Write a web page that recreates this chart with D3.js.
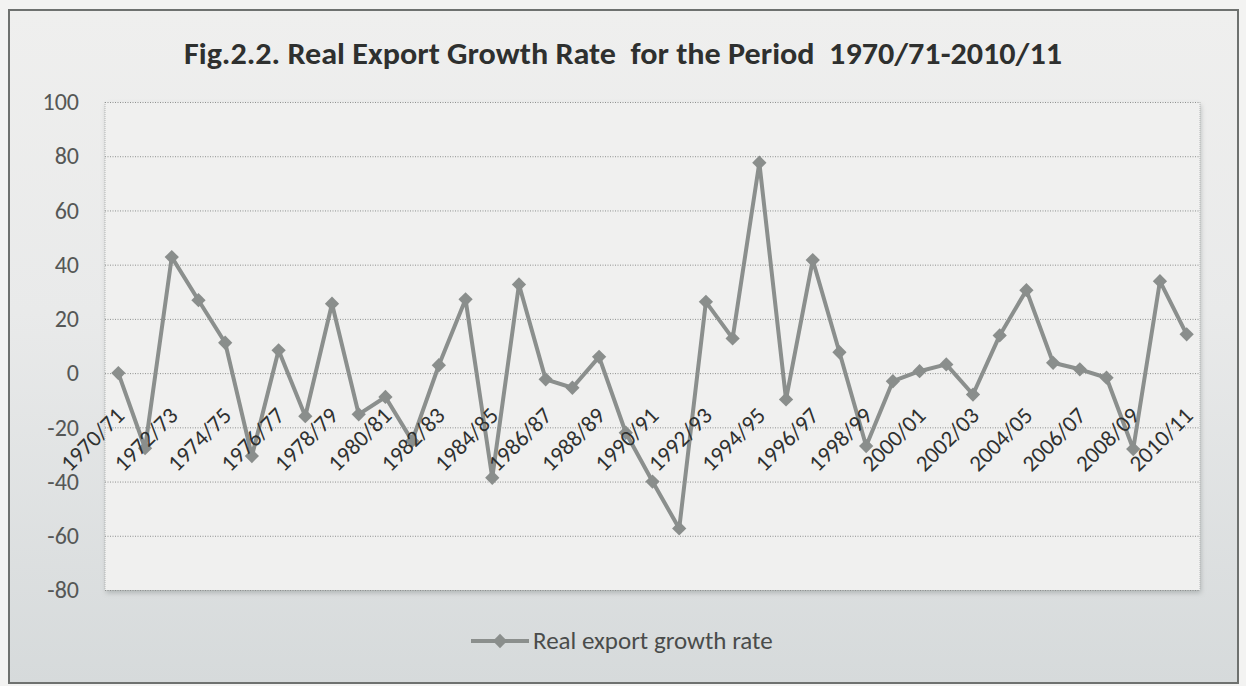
<!DOCTYPE html>
<html>
<head>
<meta charset="utf-8">
<script src="https://cdn.jsdelivr.net/npm/d3@7"></script>
<style>
  html, body { margin: 0; padding: 0; background: #f3f3f2; }
  svg { display: block; }
</style>
</head>
<body>
<svg id="chart" width="1246" height="686"></svg>
<script>
// Fiscal years of the series
const categories = [
  "1970/71","1971/72","1972/73","1973/74","1974/75","1975/76","1976/77","1977/78",
  "1978/79","1979/80","1980/81","1981/82","1982/83","1983/84","1984/85","1985/86",
  "1986/87","1987/88","1988/89","1989/90","1990/91","1991/92","1992/93","1993/94",
  "1994/95","1995/96","1996/97","1997/98","1998/99","1999/00","2000/01","2001/02",
  "2002/03","2003/04","2004/05","2005/06","2006/07","2007/08","2008/09","2009/10",
  "2010/11"
];

// Real export growth rate (%)
const growthRate = [
  0, -27.7, 42.8, 26.9, 11.2, -30.6, 8.4, -15.9,
  25.6, -15.2, -8.8, -25.0, 2.9, 27.2, -38.6, 32.7,
  -2.3, -5.4, 6.0, -22.0, -40.0, -57.3, 26.3, 12.8,
  77.6, -9.7, 41.7, 7.7, -26.9, -3.0, 0.7, 3.2,
  -7.9, 13.9, 30.6, 3.8, 1.4, -1.7, -28.0, 33.9,
  14.3
];

// Category labels shown on the axis (every second year)
const xTickLabels = categories.filter((d, i) => i % 2 === 0);

// Value axis ticks
const yTicks = [-80, -60, -40, -20, 0, 20, 40, 60, 80, 100];

const seriesName = "Real export growth rate";
const titleText = "Fig.2.2. Real Export Growth Rate\u00a0 for the Period\u00a0 1970/71-2010/11";

const svg = d3.select("#chart");
const fontFamily = "Carlito, Lato, 'Open Sans', sans-serif";

const plot = { left: 105, right: 1200, top: 102, bottom: 590 };

const x = d3.scalePoint().domain(categories).range([plot.left, plot.right]).padding(0.5);
const y = d3.scaleLinear().domain([-80, 100]).range([plot.bottom, plot.top]);

const defs = svg.append("defs");
const bg = defs.append("linearGradient").attr("id", "chartBg")
  .attr("x1", 0).attr("y1", 0).attr("x2", 0).attr("y2", 1);
bg.append("stop").attr("offset", "0%").attr("stop-color", "#efefee");
bg.append("stop").attr("offset", "45%").attr("stop-color", "#e9eaea");
bg.append("stop").attr("offset", "100%").attr("stop-color", "#d6dadb");

const shadow = defs.append("filter").attr("id", "plotShadow")
  .attr("x", "-5%").attr("y", "-5%").attr("width", "110%").attr("height", "115%");
shadow.append("feDropShadow").attr("dx", 1).attr("dy", 3).attr("stdDeviation", 2.5)
  .attr("flood-color", "#7d8282").attr("flood-opacity", 0.45);

// Chart area with frame
svg.append("rect")
  .attr("x", 9).attr("y", 10).attr("width", 1229).attr("height", 673)
  .attr("fill", "url(#chartBg)")
  .attr("stroke", "#6e716f").attr("stroke-width", 2);

// Plot area
svg.append("rect")
  .attr("x", plot.left).attr("y", plot.top)
  .attr("width", plot.right - plot.left).attr("height", plot.bottom - plot.top)
  .attr("fill", "#f0f0ef")
  .attr("filter", "url(#plotShadow)");

// Plot area side edges (dotted)
svg.append("g").selectAll("line").data([plot.left, plot.right]).join("line")
  .attr("x1", d => d).attr("x2", d => d)
  .attr("y1", plot.top).attr("y2", plot.bottom)
  .attr("stroke", "#b5b7b6").attr("stroke-width", 1)
  .attr("stroke-dasharray", "1,1");

// Horizontal gridlines
const grid = svg.append("g")
  .attr("transform", `translate(${plot.left},0)`)
  .call(d3.axisLeft(y).tickValues(yTicks).tickSize(-(plot.right - plot.left)).tickFormat(""));
grid.select(".domain").remove();
grid.selectAll("line")
  .attr("stroke", "#8e908f").attr("stroke-width", 1)
  .attr("stroke-dasharray", "1,1.5");

// Value axis labels (plain hyphen for negatives)
const yAxis = svg.append("g")
  .attr("transform", `translate(${plot.left},0)`)
  .call(d3.axisLeft(y).tickValues(yTicks).tickSize(0).tickPadding(26).tickFormat(d => String(d)));
yAxis.select(".domain").remove();
yAxis.selectAll("text")
  .attr("font-family", fontFamily)
  .attr("font-size", 24)
  .attr("fill", "#555756");

// Series line
const line = d3.line()
  .x((d, i) => x(categories[i]))
  .y(d => y(d));

svg.append("path")
  .datum(growthRate)
  .attr("d", line)
  .attr("fill", "none")
  .attr("stroke", "#8b8f8d")
  .attr("stroke-width", 4)
  .attr("stroke-linejoin", "round");

// Diamond markers
const diamond = d3.symbol().type(d3.symbolDiamond2).size(130);
svg.append("g").selectAll("path")
  .data(growthRate)
  .join("path")
  .attr("d", diamond)
  .attr("transform", (d, i) => `translate(${x(categories[i])},${y(d)})`)
  .attr("fill", "#8a8e8c");

// Category axis labels, drawn next to the zero line
const xAxis = svg.append("g")
  .attr("transform", `translate(0,${y(0)})`)
  .call(d3.axisBottom(x).tickValues(xTickLabels).tickSize(0).tickFormat(d => d));
xAxis.select(".domain").remove();
xAxis.selectAll("text")
  .attr("font-family", fontFamily)
  .attr("font-size", 23)
  .attr("fill", "#2f3130")
  .attr("text-anchor", "end")
  .attr("dy", null)
  .attr("y", null)
  .attr("transform", "translate(7,44) rotate(-45)");

// Title
svg.append("text")
  .attr("x", 623).attr("y", 64)
  .attr("text-anchor", "middle")
  .attr("font-family", fontFamily)
  .attr("font-weight", "bold")
  .attr("font-size", 31)
  .attr("textLength", 878)
  .attr("lengthAdjust", "spacingAndGlyphs")
  .attr("fill", "#2e302f")
  .text(titleText);

// Legend
const legendY = 641;
const legend = svg.append("g");
legend.append("line")
  .attr("x1", 471).attr("x2", 529).attr("y1", legendY).attr("y2", legendY)
  .attr("stroke", "#8b8f8d").attr("stroke-width", 4);
legend.append("path")
  .attr("d", diamond)
  .attr("transform", `translate(500,${legendY})`)
  .attr("fill", "#8a8e8c");
legend.append("text")
  .attr("x", 533).attr("y", legendY + 8)
  .attr("font-family", fontFamily)
  .attr("font-size", 25)
  .attr("fill", "#4a4c4b")
  .text(seriesName);
</script>
</body>
</html>
